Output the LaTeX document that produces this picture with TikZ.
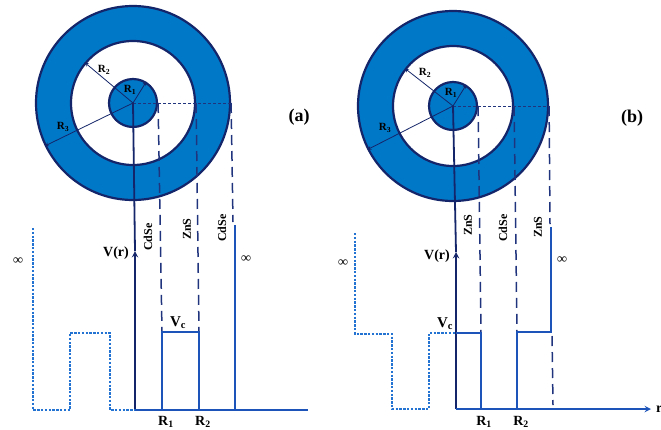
\documentclass[tikz,border=0pt]{standalone}
\usepackage{fontspec}
\setmainfont{Liberation Serif}
\usepackage{xcolor}
\usepackage{tikz}
\usetikzlibrary{shapes.geometric, arrows}

\definecolor{shellblue}{RGB}{0,120,200}
\definecolor{navy}{RGB}{20,38,105}
\definecolor{wellblue}{RGB}{28,84,186}
\definecolor{dotblue}{RGB}{35,115,210}
\definecolor{dashnavy}{RGB}{32,52,125}

\begin{document}
\begin{tikzpicture}[x=1pt, y=-1pt, every node/.style={inner sep=0pt, font=\bfseries}]
        % Define styles for shells, lines and labels
        \tikzstyle{shell} = [circle, draw=navy, line width=2.2pt, fill=shellblue]
        \tikzstyle{void} = [circle, draw=navy, line width=2.2pt, fill=white]
        \tikzstyle{radarrow} = [navy, line width=0.8pt, ->, >=stealth]
        \tikzstyle{guide} = [dashnavy, line width=1.5pt, dash pattern=on 10pt off 6pt]
        \tikzstyle{cut} = [dashnavy, line width=0.9pt, dash pattern=on 3pt off 2pt]
        \tikzstyle{vaxis} = [navy, line width=1.8pt, ->, >=stealth]
        \tikzstyle{well} = [wellblue, line width=2.5pt]
        \tikzstyle{bulk} = [dotblue, line width=2.6pt, dash pattern=on 2.4pt off 1.4pt]
        \tikzstyle{shelltag} = [rotate=90, font=\bfseries\fontsize{12}{12}\selectfont]
        \tikzstyle{rlabel} = [font=\bfseries\fontsize{11}{11}\selectfont]
        \tikzstyle{axlabel} = [font=\bfseries\fontsize{14}{14}\selectfont]

        \useasboundingbox (0,0) rectangle (661,429);

        % Panel (a): CdSe / ZnS / CdSe
        \coordinate (cA) at (133,103);
        \node (outerA) [shell, minimum size=194pt] at (cA) {};
        \node (midA) [void, minimum size=124pt] at (cA) {};
        \node (innerA) [shell, minimum size=48pt] at (cA) {};
        \draw [radarrow] (cA) -- (innerA.58);
        \draw [radarrow] (cA) -- (midA.140);
        \draw [radarrow] (cA) -- (outerA.206);
        \node (rinA) [rlabel] at (130,90) {R\textsubscript{1}};
        \node (rmidA) [rlabel] at (104,70) {R\textsubscript{2}};
        \node (routA) [rlabel] at (63,127) {R\textsubscript{3}};
        \node (tagA) [font=\bfseries\fontsize{18}{18}\selectfont] at (299,117) {(a)};

        \coordinate (oA) at (135,410);
        \coordinate (vA) at (135,251);
        \coordinate (endA) at (308,410);
        \coordinate (r1A) at (162,410);
        \coordinate (b1A) at (162,332);
        \coordinate (b2A) at (199,332);
        \coordinate (r2A) at (199,410);
        \coordinate (wA) at (235,410);
        \coordinate (wtopA) at (235,225);
        \coordinate (gA) at (233,222);

        \draw [cut] (cA) -- (outerA.east);
        \draw [guide] (innerA.east) -- (b1A);
        \draw [guide] (midA.east) -- (b2A);
        \draw [guide] (outerA.east) -- (gA);
        \draw [navy, line width=1.8pt] (cA) -- (vA);
        \draw [vaxis] (oA) -- (vA);
        \draw [well, line width=2pt] (oA) -- (endA);
        \draw [well] (r1A) -- (b1A) -- (b2A) -- (r2A);
        \draw [well] (wA) -- (wtopA);
        \draw [bulk] (33,228) -- (33,410) -- (70,410) -- (70,333) -- (110,333) -- (110,410) -- (oA);

        \node (vrA) [axlabel] at (116,253) {V(r)};
        \node (vcA) [font=\bfseries\fontsize{15}{15}\selectfont] at (178,323) {V\textsubscript{c}};
        \node (infA) [axlabel] at (18,261) {∞};
        \node (infwA) [axlabel] at (246,259) {∞};
        \node (coreA) [shelltag] at (148,237) {CdSe};
        \node (shellA) [shelltag] at (187,229) {ZnS};
        \node (outA) [shelltag] at (222,228) {CdSe};
        \node (R1A) [axlabel, anchor=base] at (166,425) {R\textsubscript{1}};
        \node (R2A) [axlabel, anchor=base] at (203,425) {R\textsubscript{2}};

        % Panel (b): ZnS / CdSe / ZnS
        \coordinate (cB) at (453,106);
        \node (outerB) [shell, minimum size=190pt] at (cB) {};
        \node (midB) [void, minimum size=120pt] at (cB) {};
        \node (innerB) [shell, minimum size=48pt] at (cB) {};
        \draw [radarrow] (cB) -- (innerB.58);
        \draw [radarrow] (cB) -- (midB.142);
        \draw [radarrow] (cB) -- (outerB.207);
        \node (rinB) [rlabel] at (451,93) {R\textsubscript{1}};
        \node (rmidB) [rlabel] at (425,73) {R\textsubscript{2}};
        \node (routB) [rlabel] at (385,128) {R\textsubscript{3}};
        \node (tagB) [font=\bfseries\fontsize{18}{18}\selectfont] at (632,118) {(b)};

        \coordinate (oB) at (456,409);
        \coordinate (vB) at (456,252);
        \coordinate (endB) at (651,409);
        \coordinate (vcB) at (456,333);
        \coordinate (b1B) at (481,333);
        \coordinate (r1B) at (481,409);
        \coordinate (r2B) at (517,409);
        \coordinate (b2B) at (517,332);
        \coordinate (b3B) at (551,332);
        \coordinate (wtopB) at (551,227);
        \coordinate (gB) at (550,224);
        \coordinate (lowB) at (552,336);
        \coordinate (lowendB) at (553,405);

        \draw [cut] (cB) -- (outerB.east);
        \draw [guide] (innerB.east) -- (b1B);
        \draw [guide] (midB.east) -- (b2B);
        \draw [guide] (outerB.east) -- (gB);
        \draw [guide] (lowB) -- (lowendB);
        \draw [navy, line width=1.8pt] (cB) -- (vB);
        \draw [vaxis] (oB) -- (vB);
        \draw [vaxis, wellblue] (oB) -- (endB);
        \draw [well] (vcB) -- (b1B) -- (r1B);
        \draw [well] (r2B) -- (b2B) -- (b3B) -- (wtopB);
        \draw [bulk] (355,233) -- (355,334) -- (392,334) -- (392,409) -- (429,409) -- (429,333) -- (vcB);

        \node (vrB) [axlabel] at (437,256) {V(r)};
        \node (vcBl) [font=\bfseries\fontsize{15}{15}\selectfont] at (445,324) {V\textsubscript{c}};
        \node (rB) [axlabel, anchor=west] at (656,409) {r};
        \node (infB) [axlabel] at (343,263) {∞};
        \node (infwB) [axlabel] at (562,260) {∞};
        \node (coreB) [shelltag] at (468,225) {ZnS};
        \node (shellB) [shelltag] at (503,228) {CdSe};
        \node (outB) [shelltag] at (538,227) {ZnS};
        \node (R1B) [axlabel, anchor=base] at (484,425) {R\textsubscript{1}};
        \node (R2B) [axlabel, anchor=base] at (521,425) {R\textsubscript{2}};
    \end{tikzpicture}
\end{document}
